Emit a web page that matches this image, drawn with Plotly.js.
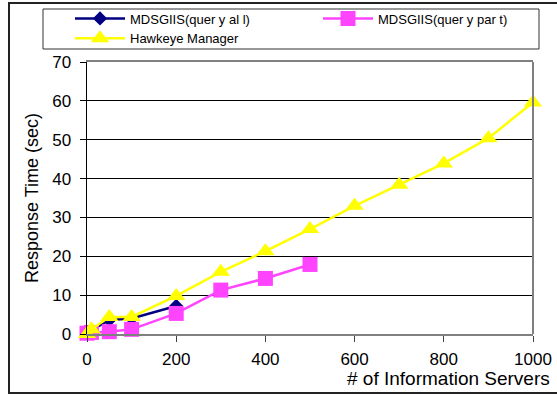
<!DOCTYPE html>
<html>
<head>
<meta charset="utf-8">
<script src="https://cdn.plot.ly/plotly-3.0.1.min.js"></script>
<style>
  html, body { margin: 0; padding: 0; background: #fff; }
  #chart { width: 557px; height: 396px; }
</style>
</head>
<body>
<div id="chart"></div>
<script>
// Number of information servers queried
const serversAll = [0, 10, 50, 100, 200];
const serversPart = [0, 10, 50, 100, 200, 300, 400, 500];
const serversHawkeye = [0, 10, 50, 100, 200, 300, 400, 500, 600, 700, 800, 900, 1000];

// Response time in seconds
const timeAll = [0.3, 1.0, 3.6, 4.0, 7.2];
const timePart = [0.2, 0.4, 0.6, 1.2, 5.3, 11.3, 14.3, 17.9];
const timeHawkeye = [0, 1.2, 4.4, 4.4, 9.8, 16.0, 21.3, 27.0, 33.0, 38.4, 43.9, 50.4, 59.6];

const seriesNames = ['MDSGIIS(quer y al l)', 'MDSGIIS(quer y par t)', 'Hawkeye Manager'];
const xTicks = [0, 200, 400, 600, 800, 1000];
const yTicks = [0, 10, 20, 30, 40, 50, 60, 70];

const FONT = 'Liberation Sans, Arial, sans-serif';

const traces = [
  {
    x: serversAll, y: timeAll, name: seriesNames[0], legend: 'legend',
    mode: 'lines+markers', type: 'scatter', cliponaxis: false,
    line: { color: '#000080', width: 2.5 },
    marker: { symbol: 'diamond', size: 11, color: '#000080' }
  },
  {
    x: serversPart, y: timePart, name: seriesNames[1], legend: 'legend2',
    mode: 'lines+markers', type: 'scatter', cliponaxis: false,
    line: { color: '#FF44FF', width: 2.5 },
    marker: { symbol: 'square', size: 15, color: '#FF44FF' }
  },
  {
    x: serversHawkeye, y: timeHawkeye, name: seriesNames[2], legend: 'legend',
    mode: 'lines+markers', type: 'scatter', cliponaxis: false,
    line: { color: '#FFFF00', width: 2.5 },
    marker: { symbol: 'triangle-up', size: 16, color: '#FFFF00' }
  }
];

// Plot area spans x 87..533, y 62..334 within the 557x396 page
const L = 87, R = 24, T = 62, B = 62;
const pw = 557 - L - R, ph = 396 - T - B;
const px = v => (v - L) / pw;          // page x -> paper x
const py = v => (396 - B - v) / ph;    // page y -> paper y

const legendStyle = {
  orientation: 'v',
  xanchor: 'left', yanchor: 'top',
  bgcolor: 'rgba(0,0,0,0)',
  borderwidth: 0,
  font: { family: FONT, size: 13, color: '#000' },
  itemwidth: 50,
  traceorder: 'normal'
};

const layout = {
  width: 557, height: 396,
  margin: { l: L, r: R, t: T, b: B, autoexpand: false },
  paper_bgcolor: '#fff', plot_bgcolor: '#fff',
  font: { family: FONT, color: '#000', size: 17 },
  showlegend: true,
  legend: Object.assign({}, legendStyle, { x: px(70), y: py(3.5) }),
  legend2: Object.assign({}, legendStyle, { x: px(318), y: py(3.5) }),
  xaxis: {
    range: [0, 1000],
    tickvals: xTicks,
    ticktext: xTicks.map(String),
    ticks: 'outside', ticklen: 6, tickcolor: '#404040', tickwidth: 1,
    showline: true, linecolor: '#808080', linewidth: 2, mirror: true,
    showgrid: false, zeroline: false,
    tickfont: { family: FONT, size: 17 },
    ticklabelstandoff: 3
  },
  yaxis: {
    range: [0, 70],
    tickvals: yTicks,
    ticktext: yTicks.map(String),
    ticks: 'outside', ticklen: 6, tickcolor: '#000', tickwidth: 1,
    showline: true, linecolor: '#000', linewidth: 1.5,
    showgrid: true, gridcolor: '#000', gridwidth: 1,
    zeroline: false,
    tickfont: { family: FONT, size: 17 },
    ticklabelstandoff: 5,
    title: { text: 'Response Time (sec)', font: { family: FONT, size: 18 }, standoff: 9 }
  },
  annotations: [
    {
      text: '# of Information Servers',
      xref: 'paper', yref: 'paper',
      x: px(552), xanchor: 'right',
      y: py(366), yanchor: 'top',
      showarrow: false,
      font: { family: FONT, size: 19, color: '#000' }
    }
  ],
  shapes: [
    // outer frame
    {
      type: 'rect', xref: 'paper', yref: 'paper',
      x0: px(9), x1: px(565), y0: py(393), y1: py(3),
      line: { color: '#222', width: 2 }, fillcolor: 'rgba(0,0,0,0)'
    },
    // legend box
    {
      type: 'rect', xref: 'paper', yref: 'paper',
      x0: px(43), x1: px(539), y0: py(49), y1: py(9),
      line: { color: '#333', width: 1 }, fillcolor: 'rgba(0,0,0,0)'
    },
    // right edge of the plot area
    {
      type: 'line', xref: 'paper', yref: 'paper',
      x0: 1, x1: 1, y0: 0, y1: 1,
      line: { color: '#808080', width: 2 }
    }
  ]
};

Plotly.newPlot('chart', traces, layout, { displayModeBar: false, staticPlot: true });
</script>
</body>
</html>
